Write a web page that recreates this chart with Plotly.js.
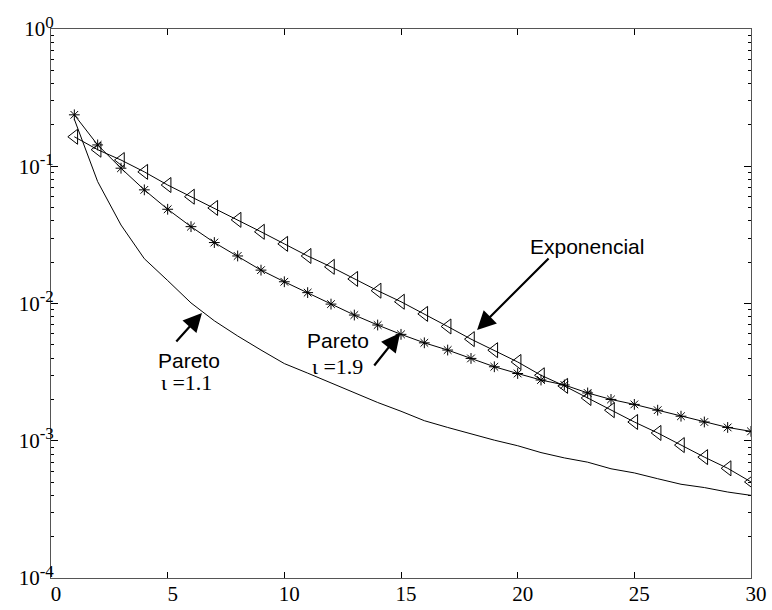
<!DOCTYPE html>
<html>
<head>
<meta charset="utf-8">
<script src="https://cdn.plot.ly/plotly-3.0.1.min.js"></script>
<style>html,body{margin:0;padding:0;background:#fff;}#chart{width:772px;height:610px;}</style>
</head>
<body>
<div id="chart"></div>
<script>
// Data
const xVals = [1,2,3,4,5,6,7,8,9,10,11,12,13,14,15,16,17,18,19,20,21,22,23,24,25,26,27,28,29,30];
const exponencial = [0.164,0.132,0.111,0.091,0.073,0.060,0.0497,0.0407,0.0333,0.0272,0.0222,0.0185,0.0151,0.0124,0.0103,0.0084,0.0068,0.0055,0.00457,0.00375,0.0030,0.00251,0.00205,0.00167,0.00137,0.00114,0.00093,0.00076,0.00063,0.000501];
const pareto19 = [0.237,0.143,0.0968,0.0673,0.0486,0.0363,0.0278,0.0222,0.0175,0.0144,0.012,0.0099,0.00824,0.00697,0.00596,0.00517,0.00458,0.00398,0.00346,0.00309,0.00277,0.00255,0.00223,0.0020,0.00184,0.00167,0.00151,0.00137,0.00125,0.00117];
const pareto11 = [0.22,0.0773,0.0373,0.0212,0.0147,0.0101,0.00748,0.0058,0.00458,0.00365,0.00311,0.00263,0.00222,0.0019,0.00164,0.0014,0.00125,0.00112,0.00101,0.00092,0.00082,0.00075,0.000698,0.000625,0.000583,0.000529,0.000482,0.000456,0.000423,0.0004];
const yTickVals = [1e-4,1e-3,1e-2,1e-1,1];
const yExponents = ['-4','-3','-2','-1','0'];
const xTickVals = [0,5,10,15,20,25,30];
const xTickText = ['0','5','10','15','20','25','30'];

const yTickText = yExponents.map(e => '10<sup><span style="font-size:17px">' + e + '</span></sup>');

const minorY = [];
for (let e = -4; e < 0; e++) for (let d = 2; d <= 9; d++) minorY.push(d * Math.pow(10, e));

const serif = 'Liberation Serif, Times New Roman, serif';
const sans = 'Liberation Sans, Arial, sans-serif';

const traces = [
  {x: xVals, y: pareto11, mode: 'lines', line: {color: '#000', width: 1}, name: 'Pareto 1.1'},
  {x: xVals, y: pareto19, mode: 'lines+markers', line: {color: '#000', width: 1},
   marker: {symbol: 'asterisk-open', size: 9, color: '#000', line: {color: '#000', width: 1}}, name: 'Pareto 1.9'},
  {x: xVals, y: exponencial, mode: 'lines+markers', line: {color: '#000', width: 1},
   marker: {symbol: 'triangle-left-open', size: 13, color: '#000', line: {color: '#000', width: 1}}, name: 'Exponencial'}
];

function arrow(x, ly, ax, ay) {
  return {x: x, y: ly, xref: 'x', yref: 'y', text: '', showarrow: true, arrowhead: 2,
          arrowsize: 1.7, arrowwidth: 2.2, arrowcolor: '#000', ax: ax, ay: ay, standoff: 0, startstandoff: 0};
}
function label(x, ly, text, font, size) {
  return {x: x, y: ly, xref: 'x', yref: 'y', text: text, showarrow: false,
          font: {family: font, size: size, color: '#000'}, xanchor: 'center', yanchor: 'middle',
          borderpad: 0};
}

const layout = {
  width: 772, height: 610,
  margin: {l: 51, r: 21, t: 29, b: 32},
  paper_bgcolor: '#fff', plot_bgcolor: '#fff',
  showlegend: false,
  xaxis: {
    range: [0, 30], tickmode: 'array', tickvals: xTickVals, ticktext: xTickText,
    ticks: 'inside', ticklen: 6, tickcolor: '#000', showgrid: false, zeroline: false,
    showline: true, linecolor: '#555', linewidth: 1, mirror: 'ticks',
    tickfont: {family: serif, size: 21, color: '#000'}, ticklabelshift: 5, ticklabelstandoff: -3
  },
  yaxis: {
    type: 'log', range: [-4, 0], tickmode: 'array', tickvals: yTickVals, ticktext: yTickText,
    ticks: 'inside', ticklen: 7, tickcolor: '#000', showgrid: false, zeroline: false,
    showline: true, linecolor: '#555', linewidth: 1, mirror: 'ticks',
    tickfont: {family: serif, size: 21, color: '#000'}, ticklabelstandoff: -8,
    minor: {tickmode: 'array', tickvals: minorY, ticks: 'inside', ticklen: 3, tickcolor: '#000', showgrid: false}
  },
  annotations: [
    arrow(18.26, -2.193, 73, -73),
    arrow(14.96, -2.215, -27, 34),
    arrow(6.47, -2.069, -27, 30),
    label(22.97, -1.588, 'Exponencial', sans, 21),
    label(12.3, -2.27, 'Pareto', sans, 21),
    label(12.28, -2.46, 'ι =1.9', serif, 22),
    label(5.9, -2.415, 'Pareto', sans, 21),
    label(5.8, -2.572, 'ι =1.1', serif, 22)
  ]
};

Plotly.newPlot('chart', traces, layout, {displayModeBar: false, staticPlot: true});
</script>
</body>
</html>
